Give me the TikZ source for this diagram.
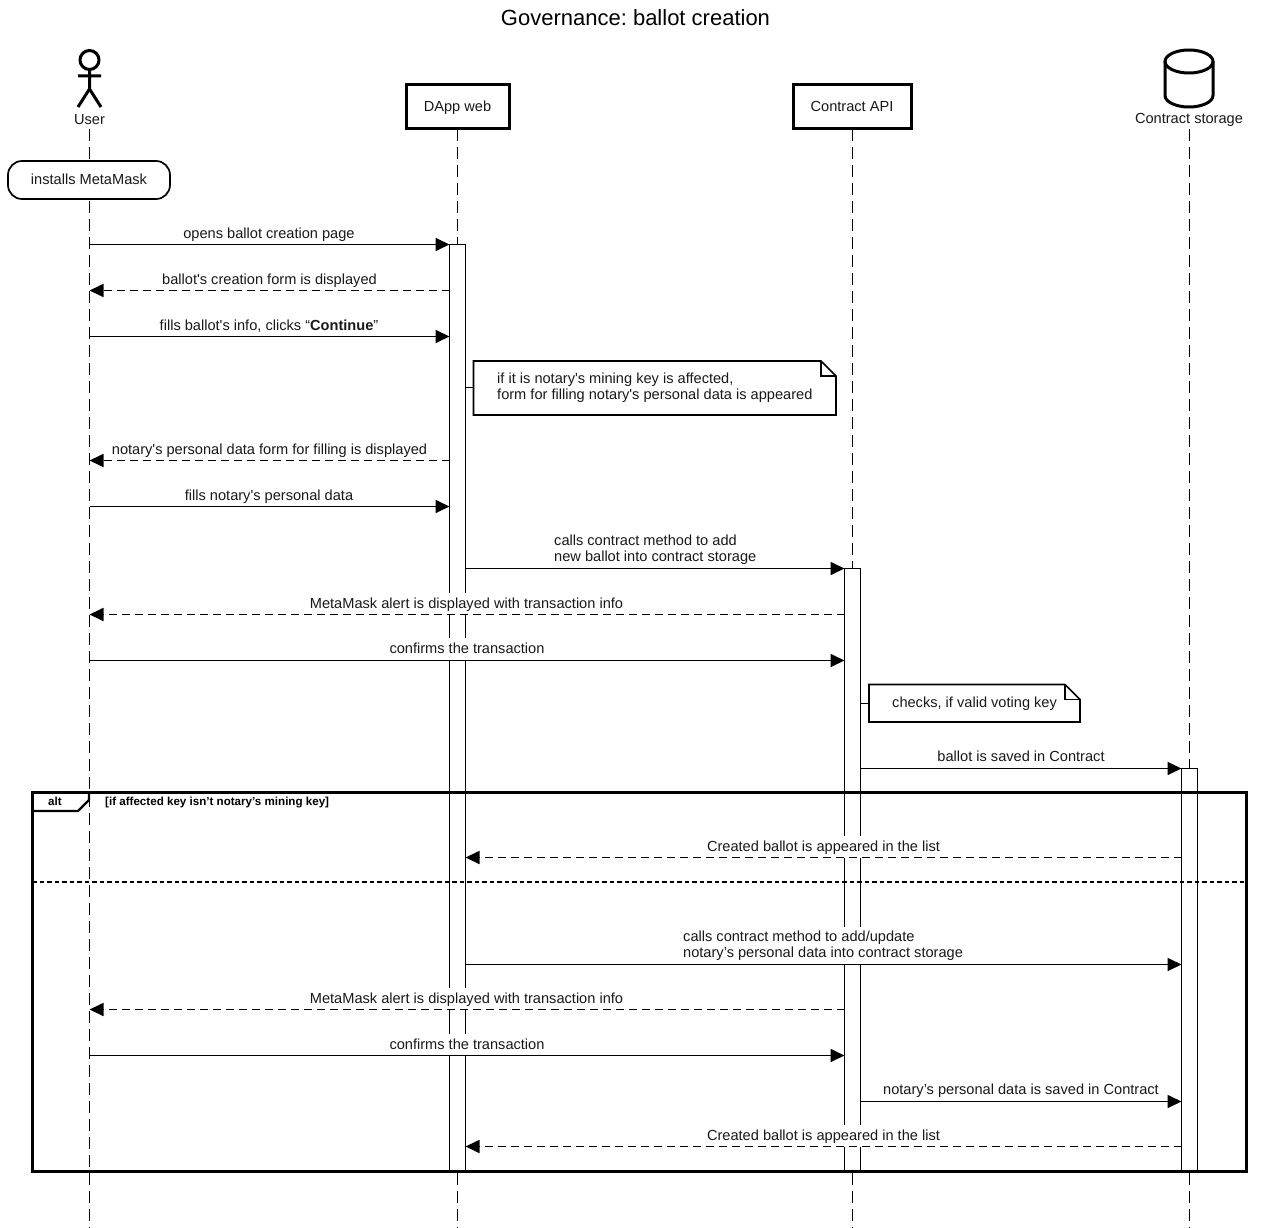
\documentclass[tikz,border=0pt]{standalone}
\usepackage{fontspec}
\setmainfont{Liberation Sans}[Ligatures=TeXOff]
\usetikzlibrary{arrows.meta}
\frenchspacing
\tikzset{
  x=1pt,y=-1pt,
  life/.style={line width=1.7pt,dash pattern=on 12pt off 6pt},
  heavy/.style={line width=3pt,draw=black,fill=white},
  bar/.style={line width=1.7pt,draw=black,fill=white},
  msg/.style={line width=1.7pt,-{Triangle[length=14pt,width=13pt]}},
  ret/.style={msg,dash pattern=on 8pt off 5pt},
  lab/.style={font=\fontsize{14.6}{16}\selectfont,fill=white,inner xsep=1pt,inner ysep=0pt,text height=15.7pt,text depth=6.3pt,anchor=base,yshift=-0.7pt,text=black!90},
  lab2/.style={font=\fontsize{14.6}{16}\selectfont,fill=white,inner xsep=1pt,inner ysep=0pt,minimum height=38.3pt,align=left,anchor=south west,yshift=-0.7pt,text=black!90},
  plain/.style={font=\fontsize{14.6}{16}\selectfont,inner sep=0pt,text=black!90},
  small/.style={font=\bfseries\fontsize{11.6}{12}\selectfont,inner sep=0pt},
  notelink/.style={line width=1.7pt},
}
\begin{document}
\begin{tikzpicture}
\useasboundingbox (0,0) rectangle (1270,1228);
% lifeline ends
\coordinate (U) at (89.5,129);   \coordinate (Ue) at (89.5,1228);
\coordinate (D) at (457.5,129); \coordinate (De) at (457.5,1228);
\coordinate (A) at (852.5,129); \coordinate (Ae) at (852.5,1228);
\coordinate (S) at (1189.5,129);  \coordinate (Se) at (1189.5,1228);
\draw[life] (U)--(Ue);
\draw[life] (D)--(De);
\draw[life] (A)--(Ae);
\draw[life] (S)--(Se);
% title
\node[inner sep=0pt,font=\fontsize{22}{24}\selectfont] (title) at (635.5,17.5) {Governance: ballot creation};
% actor
\draw[line width=3pt] (89.5,60) circle[radius=9.5];
\draw[line width=3pt] (89.5,69.5)--(89.5,89) (78,76)--(101,76) (78,107)--(89.5,89)--(101,107);
\node[plain,fill=white,inner ysep=1pt] (user) at (89.5,119.5) {User};
% participants
\node[heavy,minimum width=103pt,minimum height=44pt,inner sep=0pt,font=\fontsize{14.6}{16}\selectfont,text=black!90] (dapp) at (457.5,107) {\raisebox{-5pt}[0pt][0pt]{DApp web}};
\node[heavy,minimum width=118pt,minimum height=44pt,inner sep=0pt,font=\fontsize{14.6}{16}\selectfont,text=black!90] (api) at (852,107) {\raisebox{-5pt}[0pt][0pt]{Contract API}};
% cylinder
\draw[line width=3pt,fill=white] (1189,61.5) ellipse[x radius=24,y radius=11.5];
\draw[line width=3pt] (1165,61.5)--(1165,95.5) arc[start angle=180,end angle=0,x radius=24,y radius=11.5]--(1213,61.5);
\node[plain,fill=white,inner ysep=1pt] (store) at (1189,119.5) {Contract storage};
% state
\node[draw,line width=1.7pt,fill=white,rounded corners=14pt,minimum width=162pt,minimum height=38pt,inner sep=0pt,font=\fontsize{14.6}{16}\selectfont,text=black!90] (inst) at (89,180) {\raisebox{1pt}{installs MetaMask}};
% activations
\path[bar,draw] (449.5,244.5) rectangle (465.5,1171);
\path[bar,draw] (844.5,568.5) rectangle (860.5,1171);
\path[bar,draw] (1181.5,768.5) rectangle (1197.5,1171);
\coordinate (DL) at (449.5,245); \coordinate (DR) at (465.5,245);
\coordinate (AL) at (844.5,568); \coordinate (AR) at (860.5,568);
\coordinate (SL) at (1181.5,768);
% frame
\draw[line width=3pt] (32,792) rectangle (1246,1171);
\draw[line width=2.2pt] (32,811)--(78,811)--(89,800)--(89,792);
\draw[line width=2.2pt,dash pattern=on 4.5pt off 3pt] (32,882)--(1246,882);
\node[small] (alt) at (55,801) {alt};
\node[small,anchor=base west] (cond) at (105,805) {[if affected key isn’t notary’s mining key]};
% notes
\draw[line width=1.7pt,fill=white] (473.5,361)--(821,361)--(836,376)--(836,415)--(473.5,415)--cycle;
\draw[line width=1.7pt] (821,361)--(821,376)--(836,376);
\draw[notelink] (465.5,387.5)--(473.5,387.5);
\node[plain,align=left,anchor=west] (n1) at (497,388.2) {if it is notary's mining key is affected,\\form for filling notary's personal data is appeared};
\draw[line width=1.7pt,fill=white] (869,684.5)--(1065,684.5)--(1080,699.5)--(1080,722)--(869,722)--cycle;
\draw[line width=1.7pt] (1065,684.5)--(1065,699.5)--(1080,699.5);
\draw[notelink] (860.5,703.5)--(869,703.5);
\node[plain,anchor=west] (n2) at (892,703.8) {checks, if valid voting key};
% messages
\node[lab] (m1) at (269,237.5) {opens ballot creation page};
\draw[msg] (U|-0,244.5)--(DL|-0,244.5);
\node[lab] (m2) at (269.5,283.5) {ballot's creation form is displayed};
\draw[ret] (DL|-0,290.5)--(U|-0,290.5);
\node[lab] (m3) at (269,329.5) {fills ballot's info, clicks “\textbf{Continue}”};
\draw[msg] (U|-0,336.5)--(DL|-0,336.5);
\node[lab] (m4) at (269.5,453.5) {notary's personal data form for filling is displayed};
\draw[ret] (DL|-0,460.5)--(U|-0,460.5);
\node[lab] (m5) at (269,499.5) {fills notary's personal data};
\draw[msg] (U|-0,506.5)--(DL|-0,506.5);
\node[lab2] (m6) at (553,568.5) {calls contract method to add\\new ballot into contract storage};
\draw[msg] (DR|-0,568.5)--(AL|-0,568.5);
\node[lab] (m7) at (466.5,607.5) {MetaMask alert is displayed with transaction info};
\draw[ret] (AL|-0,614.5)--(U|-0,614.5);
\node[lab] (m8) at (467,653) {confirms the transaction};
\draw[msg] (U|-0,660.5)--(AL|-0,660.5);
\node[lab] (m9) at (1021,761) {ballot is saved in Contract};
\draw[msg] (AR|-0,768.5)--(SL|-0,768.5);
\node[lab] (m10) at (823.5,850.5) {Created ballot is appeared in the list};
\draw[ret] (SL|-0,857.5)--(DR|-0,857.5);
\node[lab2] (m11) at (682,964.5) {calls contract method to add/update\\notary’s personal data into contract storage};
\draw[msg] (DR|-0,964.5)--(SL|-0,964.5);
\node[lab] (m12) at (466.5,1002.5) {MetaMask alert is displayed with transaction info};
\draw[ret] (AL|-0,1009.5)--(U|-0,1009.5);
\node[lab] (m13) at (467,1048.5) {confirms the transaction};
\draw[msg] (U|-0,1055.5)--(AL|-0,1055.5);
\node[lab] (m14) at (1021,1094) {notary’s personal data is saved in Contract};
\draw[msg] (AR|-0,1101.5)--(SL|-0,1101.5);
\node[lab] (m15) at (823.5,1139.5) {Created ballot is appeared in the list};
\draw[ret] (SL|-0,1146.5)--(DR|-0,1146.5);
\end{tikzpicture}
\end{document}
